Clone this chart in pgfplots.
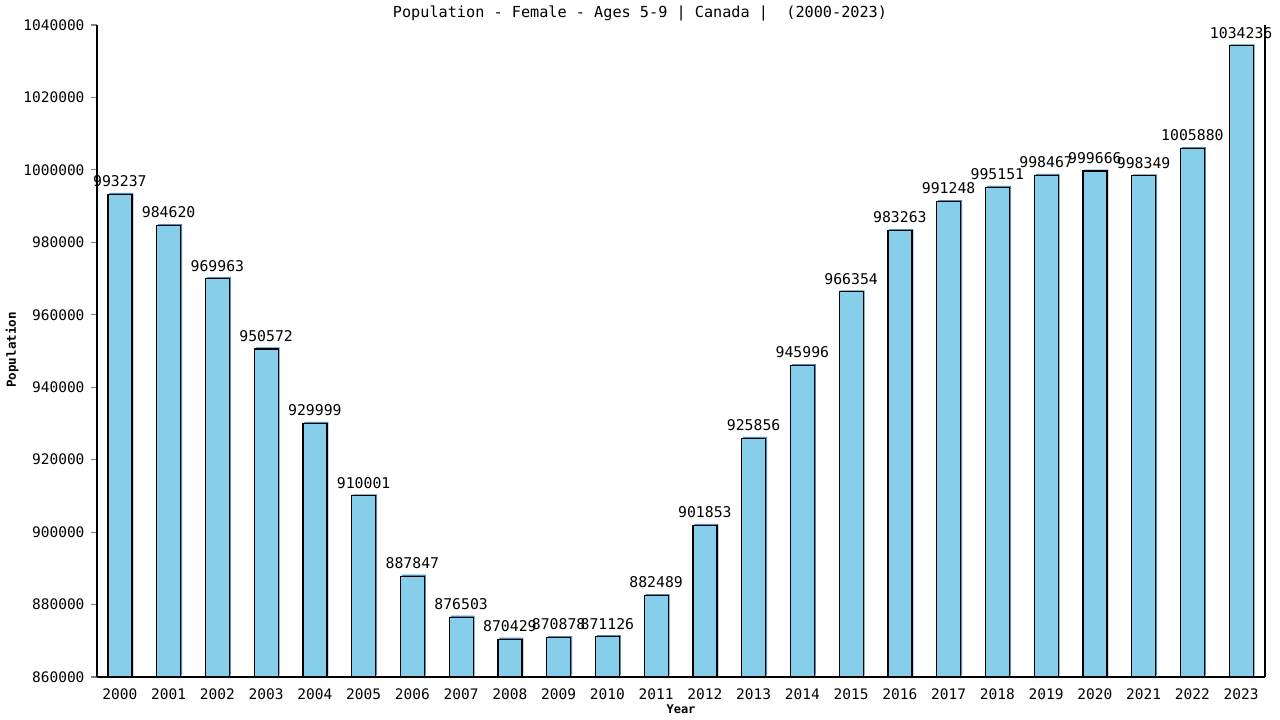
\documentclass[border=0pt]{standalone}
\usepackage{fontspec}
\setmainfont{DejaVu Sans Mono}
\usepackage{pgfplots}
\usepackage{pgfplotstable}
\pgfplotsset{compat=1.18}
\definecolor{barblue}{HTML}{87CEEB}
\definecolor{shadowblue}{HTML}{4A8DB8}

\pgfplotstableread{
year value
2000 993237
2001 984620
2002 969963
2003 950572
2004 929999
2005 910001
2006 887847
2007 876503
2008 870429
2009 870878
2010 871126
2011 882489
2012 901853
2013 925856
2014 945996
2015 966354
2016 983263
2017 991248
2018 995151
2019 998467
2020 999666
2021 998349
2022 1005880
2023 1034236
}\popdata

\begin{document}
\begin{tikzpicture}[x=1pt,y=1pt]
\useasboundingbox (0,0) rectangle (1280,720);
\begin{axis}[
    at={(97pt,43pt)}, anchor=south west,
    scale only axis, width=1168pt, height=652pt,
    ybar, bar width=24pt, /pgf/bar shift=0pt,
    xmin=1999.53, xmax=2023.49,
    ymin=860000, ymax=1040000,
    axis x line*=bottom, axis y line*=left,
    axis line style={line width=1.2pt},
    xtick=data, xtick style={draw=none},
    xticklabel style={/pgf/number format/1000 sep={}, yshift=-2pt},
    ytick={860000,880000,...,1040000},
    scaled y ticks=false,
    yticklabel style={/pgf/number format/fixed, /pgf/number format/1000 sep={}, xshift=-3pt},
    ytick style={line width=1.2pt},
    tick align=outside, major tick length=6pt,
    /pgf/number format/assume math mode=true,
    tick label style={font=\fontsize{14.5}{16}\selectfont},
    clip=false,
    nodes near coords, point meta=explicit symbolic,
    every node near coord/.append style={font=\fontsize{14.8}{16}\selectfont, black, yshift=3.5pt},
]
\addplot[fill=shadowblue, draw=none, xshift=1.5pt, yshift=1.5pt, nodes near coords={}] table[x=year, y=value, meta=value] {\popdata};
\addplot[fill=barblue, draw=black, line width=1.2pt] table[x=year, y=value, meta=value] {\popdata};
\draw[line width=1.2pt] (rel axis cs:1,0) -- (rel axis cs:1,1);
\end{axis}
\node[font=\fontsize{15.2}{17}\selectfont] at (640,707) {Population - Female - Ages 5-9 | Canada |~~(2000-2023)};
\node[font=\bfseries\fontsize{12}{14}\selectfont] at (681,11) {Year};
\node[font=\bfseries\fontsize{12.5}{14}\selectfont, rotate=90] at (12,370) {Population};
\end{tikzpicture}
\end{document}
